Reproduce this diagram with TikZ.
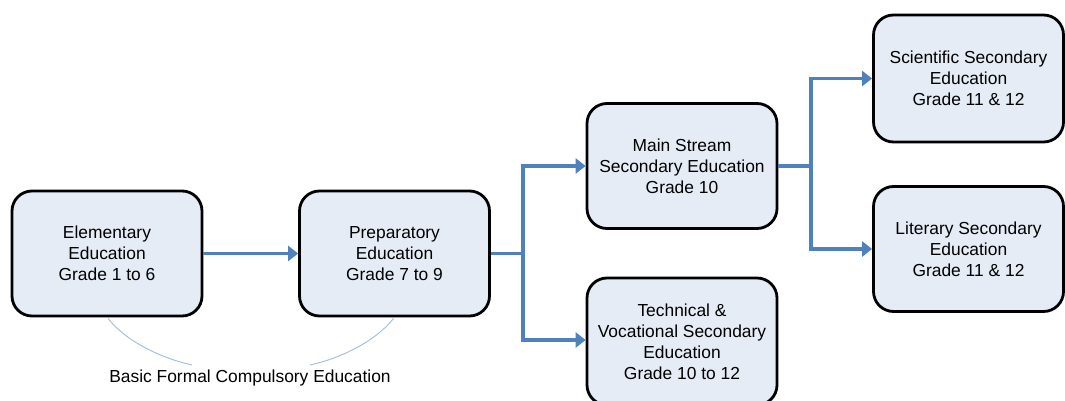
\documentclass[tikz,border=0pt]{standalone}
\usepackage{fontspec}
\setmainfont{Liberation Sans}
\usetikzlibrary{arrows.meta}
\definecolor{boxfill}{RGB}{230,236,246}
\definecolor{flowblue}{RGB}{79,129,189}
\definecolor{bracecol}{RGB}{160,188,220}
\begin{document}
\begin{tikzpicture}[x=1pt,y=-1pt,
  stagebox/.style={draw=black, line width=2.8pt, fill=boxfill, rounded corners=20pt,
    minimum width=190pt, minimum height=125pt, align=center, inner sep=0pt,
    font=\fontsize{17.4}{21}\selectfont},
  link/.style={draw=flowblue, line width=3.4pt},
  arr/.style={link, -{Triangle[length=10pt,width=15pt]}},
  brace/.style={draw=bracecol, line width=0.9pt}]
\useasboundingbox (0,0) rectangle (1065,401);

\node[stagebox] (elem) at (107,253.5) {Elementary\\Education\\Grade 1 to 6};
\node[stagebox] (prep) at (394.5,253.5) {Preparatory\\Education\\Grade 7 to 9};
\node[stagebox] (main) at (682,166) {Main Stream\\Secondary Education\\Grade 10};
\node[stagebox, minimum height=127pt] (tech) at (682,341.5) {Technical \&\\Vocational Secondary\\Education\\Grade 10 to 12};
\node[stagebox, minimum height=127pt] (sci) at (968.5,78.5) {Scientific Secondary\\Education\\Grade 11 \& 12};
\node[stagebox] (lit) at (968.5,249) {Literary Secondary\\Education\\Grade 11 \& 12};

\node[font=\fontsize{17.4}{21}\selectfont, inner sep=1pt] (basic) at (250,378) {Basic Formal Compulsory Education};

% flow arrows
\draw[arr] (elem.east) -- (prep.west);
\coordinate (split1) at (523,253.5);
\draw[link] (prep.east) -- (split1);
\draw[arr] (split1) |- (main.west);
\draw[arr] (split1) |- ([yshift=1.5pt]tech.west);
\coordinate (split2) at (811,166);
\draw[link] (main.east) -- (split2);
\draw[arr] (split2) |- (sci.west);
\draw[arr] (split2) |- (lit.west);

% bracket curves to the label
\coordinate (braceL) at (192,365);
\coordinate (braceR) at (310,365);
\draw[brace] ([xshift=1pt,yshift=-1pt]elem.south) .. controls +(17,22) and +(-32,-7) .. (braceL);
\draw[brace] ([xshift=-1pt,yshift=-1pt]prep.south) .. controls +(-17,22) and +(32,-7) .. (braceR);
\end{tikzpicture}
\end{document}
